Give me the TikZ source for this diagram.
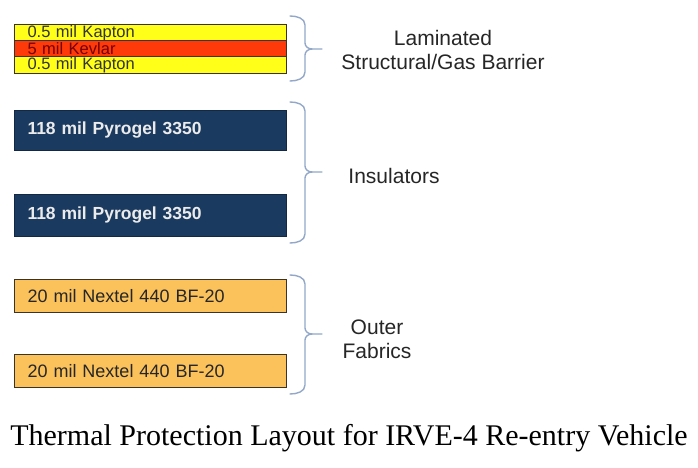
\documentclass[tikz,border=0pt]{standalone}
\usepackage{fontspec}
\setmainfont{Liberation Sans}
\newfontfamily\capfont{Liberation Serif}
\definecolor{kapton}{HTML}{FFFF1A}
\definecolor{kevlar}{HTML}{FF3A0A}
\definecolor{pyro}{HTML}{1B3A60}
\definecolor{nextel}{HTML}{FBC25C}
\definecolor{bracec}{HTML}{93A8C9}
\definecolor{edge}{HTML}{3A3326}
\begin{document}
\begin{tikzpicture}[x=1pt,y=-1pt,
  layer/.style={draw=edge, line width=1pt, anchor=north west, minimum width=272pt,
    inner xsep=13pt, inner ysep=0pt, text width=246pt, align=left},
  thin/.style={layer, font=\fontsize{16.5}{16}\selectfont, text=black!80},
  pyrolayer/.style={layer, fill=pyro, draw=pyro!70!black, text=white!92!black,
    font=\fontsize{17.5}{17.5}\selectfont\bfseries, minimum height=40pt},
  nextlayer/.style={layer, fill=nextel, text=black!85, font=\fontsize{18}{18}\selectfont, minimum height=32.5pt},
  grplabel/.style={font=\fontsize{21}{24}\selectfont, text=black!85, align=center},
  bracket/.style={draw=bracec, line width=1.4pt, line cap=round}]
\useasboundingbox (0,0) rectangle (698,468);
\fill[white] (0,0) rectangle (698,468);

% laminated stack
\node[thin, fill=kapton, minimum height=16.5pt] (k1) at (14,24) {0.5 mil Kapton};
\node[thin, fill=kevlar, minimum height=16pt, text=red!45!black] (kv) at (14,40.5) {5 mil Kevlar};
\node[thin, fill=kapton, minimum height=16.5pt] (k2) at (14,56.5) {0.5 mil Kapton};

% insulators
\node[pyrolayer, minimum height=39.5pt] (p1) at (14,110) {118 mil Pyrogel 3350};
\node[pyrolayer, minimum height=42pt] (p2) at (14,194) {118 mil Pyrogel 3350};

% outer fabrics
\node[nextlayer] (n1) at (14,279) {20 mil Nextel 440 BF-20};
\node[nextlayer] (n2) at (14,354) {20 mil Nextel 440 BF-20};

% braces
\draw[bracket] (290,16) to[out=0,in=90] (305,25) -- (305,43) to[out=-90,in=180] (312,49) -- (322,49);
\draw[bracket] (312,49) to[out=180,in=90] (305,55) -- (305,72) to[out=-90,in=0] (290,81);

\draw[bracket] (290,102) to[out=0,in=90] (305,111) -- (305,166) to[out=-90,in=180] (312,172) -- (322,172);
\draw[bracket] (312,172) to[out=180,in=90] (305,178) -- (305,234) to[out=-90,in=0] (290,243);

\draw[bracket] (290,275) to[out=0,in=90] (305,284) -- (305,328) to[out=-90,in=180] (312,334) -- (322,334);
\draw[bracket] (312,334) to[out=180,in=90] (305,340) -- (305,385) to[out=-90,in=0] (290,394);

% group labels
\node[grplabel] (lam) at (443,50) {Laminated\\Structural/Gas Barrier};
\node[grplabel] (ins) at (394,176) {Insulators};
\node[grplabel] (out) at (377,339) {Outer\\Fabrics};

% caption
\node[font=\capfont\fontsize{30}{30}\selectfont, text=black] (cap) at (349,438) {Thermal Protection Layout for IRVE-4 Re-entry Vehicle};
\end{tikzpicture}
\end{document}
